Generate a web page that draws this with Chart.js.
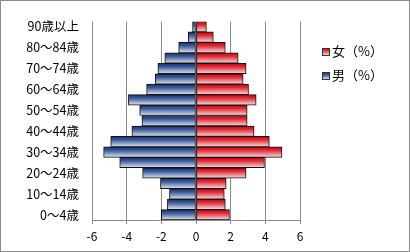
<!DOCTYPE html>
<html>
<head>
<meta charset="utf-8">
<script src="https://cdn.jsdelivr.net/npm/chart.js@4/dist/chart.umd.min.js"></script>
<style>
  html, body { margin: 0; padding: 0; background: #fff; }
  #wrap { position: relative; width: 410px; height: 252px; box-sizing: border-box; border: 1px solid #8a8a8a; background: #fff; }
  #c { position: absolute; left: 0; top: 0; }
  .lg { position: absolute; font-family: "Noto Sans CJK JP", sans-serif; font-size: 13px; color: #000; line-height: 16px; white-space: nowrap; }
  .lg i { display: inline-block; width: 6px; height: 6px; border: 1px solid #333; margin-right: 2px; vertical-align: 0px; }
</style>
</head>
<body>
<div id="wrap">
  <canvas id="c" width="408" height="250"></canvas>
  <div class="lg" style="left:321px; top:42px;"><i style="background:linear-gradient(#c8141e,#e8606a,#f4d8d8);"></i>女（%）</div>
  <div class="lg" style="left:321px; top:66px;"><i style="background:linear-gradient(#1c3470,#5a78b0,#e0e6f0);"></i>男（%）</div>
</div>
<script>
const categories = ["0～4歳","5～9歳","10～14歳","15～19歳","20～24歳","25～29歳","30～34歳","35～39歳","40～44歳","45～49歳","50～54歳","55～59歳","60～64歳","65～69歳","70～74歳","75～79歳","80～84歳","85～89歳","90歳以上"];
const maleValues = [-2.0,-1.65,-1.53,-2.05,-3.08,-4.4,-5.33,-4.92,-3.7,-3.12,-3.25,-3.9,-2.85,-2.35,-2.2,-1.8,-1.0,-0.45,-0.2];
const femaleValues = [1.93,1.69,1.63,1.74,2.89,3.95,4.96,4.23,3.35,2.95,2.95,3.47,3.03,2.72,2.89,2.43,1.69,1.0,0.6];
const xTicks = [-6,-4,-2,0,2,4,6];

function grad(stops) {
  return (ctx) => {
    const chart = ctx.chart;
    const y = chart.scales && chart.scales.y;
    if (!y || ctx.type !== 'data' || !isFinite(y.getPixelForValue(0))) return stops[1][1];
    const c = y.getPixelForValue(ctx.dataIndex);
    const half = Math.abs(y.getPixelForValue(1) - y.getPixelForValue(0)) / 2;
    const g = chart.ctx.createLinearGradient(0, c - half, 0, c + half);
    stops.forEach(s => g.addColorStop(s[0], s[1]));
    return g;
  };
}

const font = { family: '"Noto Sans CJK JP", sans-serif', size: 12 };
const yFont = { family: '"Noto Sans CJK JP", sans-serif', size: 12.5 };

new Chart(document.getElementById('c'), {
  type: 'bar',
  data: {
    labels: categories,
    datasets: [
      { label: '男（%）', data: maleValues, grouped: false,
        backgroundColor: grad([[0,'#17306a'],[0.35,'#3d5c9c'],[1,'#e2e8f2']]),
        borderColor: '#111', borderWidth: 1, borderSkipped: false,
        barPercentage: 1, categoryPercentage: 1 },
      { label: '女（%）', data: femaleValues, grouped: false,
        backgroundColor: grad([[0,'#c40010'],[0.35,'#e0303a'],[1,'#f6e0e0']]),
        borderColor: '#111', borderWidth: 1, borderSkipped: false,
        barPercentage: 1, categoryPercentage: 1 }
    ]
  },
  options: {
    indexAxis: 'y',
    responsive: false,
    animation: false,
    devicePixelRatio: 1,
    layout: { padding: { left: 0, right: 109, top: 11, bottom: 0 } },
    plugins: { legend: { display: false }, tooltip: { enabled: false } },
    scales: {
      x: {
        min: -6, max: 6,
        afterBuildTicks: (s) => { s.ticks = xTicks.map(v => ({ value: v })); },
        afterFit: (s) => { s.height = 31; },
        grid: { color: '#8a8a8a', lineWidth: 1, tickLength: 4, drawTicks: true },
        border: { display: true, color: '#8a8a8a' },
        ticks: { font: font, color: '#000', padding: 5, maxRotation: 0 }
      },
      y: {
        reverse: true,
        afterFit: (s) => { s.width = 91; },
        grid: { display: false, drawTicks: false },
        border: { display: false },
        ticks: {
          autoSkip: false, font: yFont, color: '#000', padding: 13,
          callback: function(value, index) { return index % 2 === 0 ? this.getLabelForValue(value) : ''; }
        }
      }
    }
  }
});
</script>
</body>
</html>
